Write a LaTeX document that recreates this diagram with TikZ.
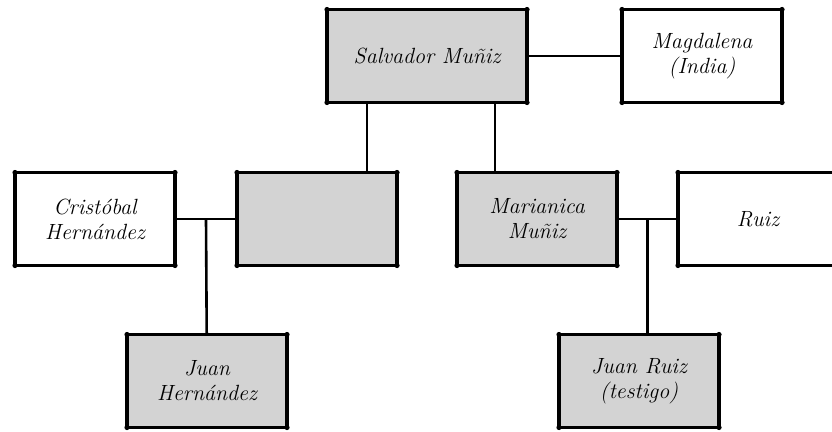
\documentclass[tikz,border=0pt]{standalone}
\usepackage{fontspec}
\usepackage{tikz}
\usetikzlibrary{positioning, calc}
\definecolor{kingray}{RGB}{211,211,211}
\tikzset{
    person/.style={draw, rectangle, line width=3.2pt, line join=round, minimum width=160pt, minimum height=93pt, outer sep=0pt, align=center, font=\fontsize{22}{25}\selectfont\itshape},
    link/.style={line width=2.6pt}
}

\begin{document}
\begin{tikzpicture}[x=1pt, y=-1pt]
\clip (0,0) rectangle (832,431);
\node[person, fill=kingray, minimum width=200pt] (sal) at (427,56) {Salvador Muñiz};
\node[person, right=95pt of sal] (mag) {Magdalena\\(India)};
\node[person, fill=kingray] (blank) at (317,219) {};
\node[person, left=62pt of blank] (cri) {Cristóbal\\Hernández};
\node[person, fill=kingray, right=60pt of blank] (mar) {Marianica\\Muñiz};
\node[person, right=61pt of mar] (ruiz) {Ruiz};
\node[person, fill=kingray] (jh) at (207,381) {Juan\\Hernández};
\node[person, fill=kingray] (jr) at (639,381) {Juan Ruiz\\(testigo)};
% corner dots
\foreach \n in {sal,mag,cri,blank,mar,ruiz,jh,jr}
  \foreach \c in {north west,north east,south west,south east}
    \fill (\n.\c) circle (2.6pt);
% lines
\coordinate (sl) at ($(sal.south west)!0.2!(sal.south east)$);
\coordinate (sr) at ($(sal.south west)!0.84!(sal.south east)$);
\coordinate (cb) at ($(cri.east)!0.5!(blank.west)$);
\coordinate (mr) at ($(mar.east)!0.5!(ruiz.west)$);
\draw[link] (sal) -- (mag);
\draw[link] (sl) -- (sl |- blank.north);
\draw[link] (sr) -- (sr |- mar.north);
\draw[link] (cri) -- (blank);
\draw[link] (mar) -- (ruiz);
\draw[link] (cb) -- (jh);
\draw[link] (mr) -- (mr |- jr.north);
\end{tikzpicture}
\end{document}
